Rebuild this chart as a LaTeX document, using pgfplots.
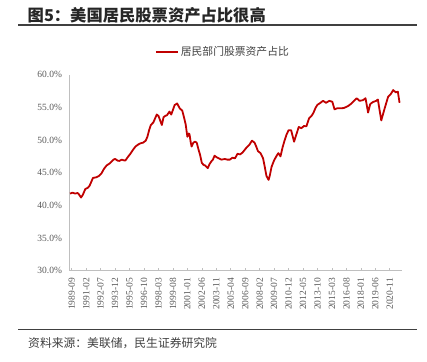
\documentclass[border=0pt]{standalone}
\usepackage{pgfplots}
\pgfplotsset{compat=1.18}
\usepackage{fontspec}
\setmainfont{Liberation Serif}
\newfontfamily\cjk{Noto Sans CJK SC}
\definecolor{lred}{HTML}{C00000}
\definecolor{tickgray}{HTML}{595959}
\definecolor{axgray}{HTML}{BFBFBF}
\definecolor{txtgray}{HTML}{404040}
\begin{document}
\begin{tikzpicture}
\path[use as bounding box] (0pt,0pt) rectangle (427pt,361pt);
% title
\node[anchor=west, text=black!85, font=\cjk\bfseries\fontsize{16.3}{19}\selectfont, inner sep=0pt] at (27.5pt,346pt) {图5：美国居民股票资产占比很高};
\draw[black!75, line width=1.1pt] (18pt,336pt) -- (417pt,336pt);
% source
\draw[black!75, line width=0.9pt] (18pt,32pt) -- (417pt,32pt);
\node[anchor=west, text=txtgray, font=\cjk\fontsize{11.8}{14}\selectfont, inner sep=0pt] at (28pt,18pt) {资料来源：美联储，民生证券研究院};
\begin{axis}[
  at={(69.5pt,90.3pt)}, anchor=south west,
  scale only axis, width=332pt, height=196pt,
  xmin=-2.6, xmax=387.8, ymin=30, ymax=60,
  axis lines*=left,
  axis line style={axgray, line width=0.8pt},
  xtick={0,17,...,374},
  xticklabels={1989-09,1991-02,1992-07,1993-12,1995-05,1996-10,1998-03,1999-08,2001-01,2002-06,2003-11,2005-04,2006-09,2008-02,2009-07,2010-12,2012-05,2013-10,2015-03,2016-08,2018-01,2019-06,2020-11},
  x tick label style={rotate=90, anchor=east, font=\fontsize{9.5}{11}\selectfont, text=tickgray},
  xtick style={axgray, line width=0.6pt},
  tick align=inside, major tick length=3pt,
  ytick={30,35,...,60},
  yticklabel={\pgfmathprintnumber[fixed,fixed zerofill,precision=1]{\tick}\%},
  y tick label style={font=\fontsize{9.5}{11}\selectfont, text=tickgray},
  ytick style={draw=none},
  /pgf/number format/assume math mode=true,
  xticklabel shift=4pt, yticklabel shift=4pt,
  legend style={at={(0.462,1.116)}, anchor=center, draw=none, fill=none,
    font=\cjk\fontsize{10.8}{12}\selectfont, text=txtgray, inner sep=0pt},
  legend image code/.code={\draw[#1, line width=2pt] (0pt,0pt) -- (22pt,0pt);},
  clip=false,
]
\addplot[lred, line width=1.8pt, line join=round] coordinates {
(-2,41.8)(1,41.95)(4,41.8)(7,41.9)(9,41.6)(11,41.2)(13,41.6)(16,42.5)(19,42.7)(21,43.0)(23,43.6)(25,44.2)(29,44.3)(32,44.5)(35,44.9)(38,45.6)(41,46.1)(45,46.45)(49,47.0)(51,47.1)(54,46.85)(56,46.8)(59,47.0)(61,46.9)(63,46.85)(66,47.4)(69,47.9)(72,48.5)(75,49.0)(78,49.3)(81,49.5)(84,49.6)(87,49.9)(89,50.5)(91,51.5)(93,52.3)(96,52.7)(98,53.3)(100,53.9)(102,53.7)(104,53.0)(106,52.3)(108,53.5)(110,53.7)(112,53.8)(115,54.35)(117,53.9)(119,54.6)(121,55.35)(124,55.6)(127,54.85)(130,54.5)(132,53.5)(134,52.4)(136,50.5)(137.5,51.0)(138.5,50.9)(140,49.6)(141,49.0)(143,49.6)(145,49.75)(147,49.6)(149,48.6)(151,47.7)(153,46.5)(155,46.2)(157,46.1)(160,45.7)(162,46.3)(164,46.7)(166,47.0)(168,47.6)(170,47.4)(173,47.2)(176,47.0)(180,47.1)(183,47.0)(186,47.0)(189,47.3)(192,47.2)(195,47.9)(198,47.8)(201,48.1)(204,48.6)(206,48.9)(209,49.3)(212,49.9)(215,49.6)(217,49.0)(219,48.3)(222,48.0)(225,47.2)(227,45.9)(229,44.5)(231.5,43.9)(233,44.6)(235,45.9)(238,46.9)(241,47.6)(243,48.0)(245.5,47.5)(248,48.9)(250,49.8)(252.5,50.8)(255,51.5)(258,51.5)(261.5,49.75)(264,50.8)(267,52.0)(270,51.8)(273,52.15)(276,52.1)(279,53.3)(282,53.7)(284,54.1)(287,55.0)(289,55.4)(292.5,55.7)(295.5,56.0)(299,55.7)(303,56.0)(306.5,55.85)(309,54.7)(312,54.85)(316,54.85)(320,54.9)(325,55.2)(329,55.6)(332,56.0)(335,56.4)(338.5,56.0)(342.5,56.1)(345.5,56.4)(348.5,54.2)(351,55.5)(354,55.8)(358,56.0)(360,56.2)(364,53.0)(368,54.85)(372,56.6)(375,57.0)(378,57.65)(381,57.3)(383.5,57.4)(385.5,55.7)
};
\addlegendentry{居民部门股票资产占比}
\end{axis}
\end{tikzpicture}
\end{document}
